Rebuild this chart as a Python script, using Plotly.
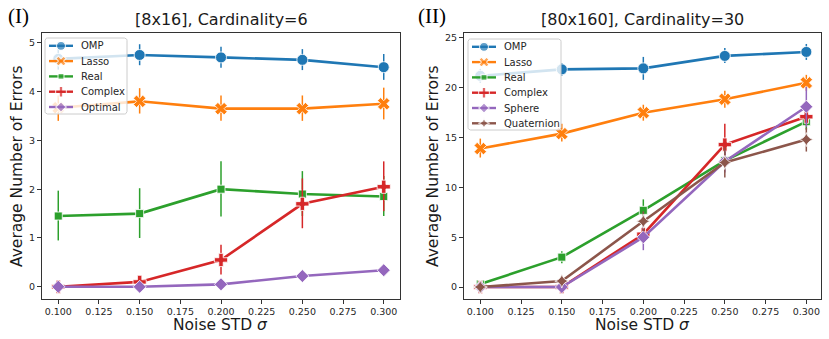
import plotly.graph_objects as go

# ---------------- data ----------------
noise = [0.10, 0.15, 0.20, 0.25, 0.30]
x_ticks = [0.100, 0.125, 0.150, 0.175, 0.200, 0.225, 0.250, 0.275, 0.300]

# Panel I: [8x16], Cardinality=6
p1_names = ["OMP", "Lasso", "Real", "Complex", "Optimal"]
p1_mean = {
    "OMP":     [4.67, 4.75, 4.70, 4.65, 4.50],
    "Lasso":   [3.67, 3.80, 3.65, 3.65, 3.75],
    "Real":    [1.45, 1.50, 2.00, 1.90, 1.85],
    "Complex": [0.00, 0.10, 0.55, 1.70, 2.05],
    "Optimal": [0.00, 0.00, 0.05, 0.22, 0.34],
}
p1_lo = {
    "OMP":     [4.45, 4.54, 4.49, 4.44, 4.24],
    "Lasso":   [3.40, 3.55, 3.40, 3.40, 3.43],
    "Real":    [0.95, 1.00, 1.44, 1.45, 1.45],
    "Complex": [0.00, 0.03, 0.25, 1.20, 1.55],
    "Optimal": [0.00, 0.00, 0.02, 0.17, 0.29],
}
p1_hi = {
    "OMP":     [4.88, 4.97, 4.92, 4.87, 4.77],
    "Lasso":   [3.92, 4.07, 3.92, 3.92, 4.08],
    "Real":    [1.97, 2.02, 2.57, 2.37, 2.27],
    "Complex": [0.00, 0.17, 0.86, 2.22, 2.57],
    "Optimal": [0.00, 0.00, 0.08, 0.27, 0.39],
}

# Panel II: [80x160], Cardinality=30
p2_names = ["OMP", "Lasso", "Real", "Complex", "Sphere", "Quaternion"]
p2_mean = {
    "OMP":        [21.2, 21.85, 21.95, 23.2, 23.6],
    "Lasso":      [13.9, 15.4, 17.5, 18.85, 20.5],
    "Real":       [0.3, 3.0, 7.7, 12.7, 16.6],
    "Complex":    [0.0, 0.0, 5.3, 14.3, 17.1],
    "Sphere":     [0.0, 0.0, 5.0, 12.6, 18.1],
    "Quaternion": [0.0, 0.6, 6.6, 12.5, 14.8],
}
p2_lo = {
    "OMP":        [20.5, 21.2, 20.8, 22.5, 22.8],
    "Lasso":      [13.0, 14.6, 16.7, 18.0, 19.7],
    "Real":       [0.2, 2.4, 6.6, 11.8, 15.8],
    "Complex":    [0.0, 0.0, 4.4, 12.3, 16.2],
    "Sphere":     [0.0, 0.0, 3.7, 11.5, 16.1],
    "Quaternion": [0.0, 0.4, 5.6, 11.0, 13.6],
}
p2_hi = {
    "OMP":        [21.9, 22.5, 23.1, 24.0, 24.4],
    "Lasso":      [14.9, 16.4, 18.3, 19.7, 21.3],
    "Real":       [0.4, 3.6, 8.8, 13.6, 17.4],
    "Complex":    [0.0, 0.0, 6.2, 16.4, 18.0],
    "Sphere":     [0.0, 0.0, 6.3, 13.7, 20.1],
    "Quaternion": [0.0, 0.8, 7.6, 14.0, 16.0],
}

colors = {
    "OMP": "#1f77b4", "Lasso": "#ff7f0e", "Real": "#2ca02c",
    "Complex": "#d62728", "Optimal": "#9467bd", "Sphere": "#9467bd",
    "Quaternion": "#8c564b",
}
symbols = {
    "OMP": "circle", "Lasso": "x", "Real": "square", "Complex": "cross",
    "Optimal": "diamond", "Sphere": "diamond", "Quaternion": "star-diamond",
}
msize = {"OMP": 11, "Lasso": 11, "Real": 8, "Complex": 11,
         "Optimal": 10, "Sphere": 10, "Quaternion": 10}

# ---------------- layout constants (pixels) ----------------
W, H = 829, 339
TOP, BOT = 33, 299
LEG_BOXES = [(45, 38, 127, 114), (468, 39, 561, 130)]  # x0, y0, x1, y1
ROW_H = 15.3

fig = go.Figure()


def add_panel(names, mean, lo, hi, xa, ya):
    for n in names:
        m = mean[n]
        fig.add_trace(go.Scatter(
            x=noise, y=m, mode="lines+markers", name=n,
            xaxis=xa, yaxis=ya, showlegend=False,
            line=dict(color=colors[n], width=2.6),
            marker=dict(symbol=symbols[n], size=msize[n], color=colors[n],
                        line=dict(color="white", width=0.8)),
            error_y=dict(type="data", symmetric=False,
                         array=[h - v for h, v in zip(hi[n], m)],
                         arrayminus=[v - l for v, l in zip(m, lo[n])],
                         color=colors[n], thickness=1.5, width=0),
        ))


def rounded_box(x0, y0, x1, y1, r=2.5, n=5):
    import math
    xs, ys = [], []
    corners = [(x1 - r, y0 + r, -90, 0), (x1 - r, y1 - r, 0, 90),
               (x0 + r, y1 - r, 90, 180), (x0 + r, y0 + r, 180, 270)]
    for cx, cy, a0, a1 in corners:
        for k in range(n + 1):
            a = math.radians(a0 + (a1 - a0) * k / n)
            xs.append(cx + r * math.cos(a))
            ys.append(cy + r * math.sin(a))
    xs.append(xs[0])
    ys.append(ys[0])
    return xs, ys


annotations = []


def add_legend(names, box):
    x0, y0, x1, y1 = box
    bx, by = rounded_box(x0, y0, x1, y1)
    fig.add_trace(go.Scatter(
        x=bx, y=by, mode="lines", fill="toself",
        fillcolor="rgba(255,255,255,0.8)", line=dict(color="#cccccc", width=1),
        xaxis="x3", yaxis="y3", showlegend=False, hoverinfo="skip"))
    for i, n in enumerate(names):
        yc = y0 + 7.8 + i * ROW_H
        fig.add_trace(go.Scatter(
            x=[x0 + 4, x0 + 16, x0 + 28], y=[yc, yc, yc], mode="lines+markers",
            xaxis="x3", yaxis="y3", showlegend=False, hoverinfo="skip",
            line=dict(color=colors[n], width=2.4),
            marker=dict(symbol=symbols[n], size=[0, msize[n] - 2, 0], color=colors[n],
                        line=dict(color="white", width=1.2))))
        annotations.append(dict(
            text=n, x=x0 + 34, y=yc, xref="x3", yref="y3", showarrow=False,
            xanchor="left", yanchor="middle",
            font=dict(size=10, color="#262626", family="DejaVu Sans")))


add_panel(p1_names, p1_mean, p1_lo, p1_hi, "x", "y")
add_panel(p2_names, p2_mean, p2_lo, p2_hi, "x2", "y2")
add_legend(p1_names, LEG_BOXES[0])
add_legend(p2_names, LEG_BOXES[1])

ydom = [1 - BOT / H, 1 - TOP / H]

axis_common = dict(showline=True, linecolor="#333333", linewidth=1, mirror=True,
                   ticks="outside", ticklen=4, tickcolor="#333333",
                   showgrid=False, zeroline=False,
                   tickfont=dict(family="DejaVu Sans", size=9.5, color="#262626"))

title_font = dict(family="DejaVu Sans", size=15.5, color="#1a1a1a")
ymid = 1 - (TOP + BOT) / 2 / H

annotations += [
    dict(text="[8x16], Cardinality=6", x=221 / W, y=1 - 20 / H, xref="paper", yref="paper",
         showarrow=False, font=dict(size=16, color="#1a1a1a"), xanchor="center", yanchor="middle"),
    dict(text="[80x160], Cardinality=30", x=642 / W, y=1 - 20 / H, xref="paper", yref="paper",
         showarrow=False, font=dict(size=16, color="#1a1a1a"), xanchor="center", yanchor="middle"),
    dict(text="(I)", x=6 / W, y=1 - 16 / H, xref="paper", yref="paper",
         showarrow=False, font=dict(size=21, family="Liberation Serif", color="black"),
         xanchor="left", yanchor="middle"),
    dict(text="(II)", x=416 / W, y=1 - 16 / H, xref="paper", yref="paper",
         showarrow=False, font=dict(size=21, family="Liberation Serif", color="black"),
         xanchor="left", yanchor="middle"),
    dict(text="Noise STD <i>σ</i>", x=220 / W, y=1 - 325 / H, xref="paper", yref="paper",
         showarrow=False, font=title_font, xanchor="center", yanchor="middle"),
    dict(text="Noise STD <i>σ</i>", x=642 / W, y=1 - 325 / H, xref="paper", yref="paper",
         showarrow=False, font=title_font, xanchor="center", yanchor="middle"),
    dict(text="Average Number of Errors", x=17 / W, y=ymid, xref="paper", yref="paper",
         showarrow=False, font=title_font, textangle=-90, xanchor="center", yanchor="middle"),
    dict(text="Average Number of Errors", x=433 / W, y=ymid, xref="paper", yref="paper",
         showarrow=False, font=title_font, textangle=-90, xanchor="center", yanchor="middle"),
]

fig.update_layout(
    width=W, height=H, margin=dict(l=0, r=0, t=0, b=0),
    plot_bgcolor="rgba(0,0,0,0)", paper_bgcolor="white", showlegend=False,
    font=dict(family="DejaVu Sans", color="#262626"),
    xaxis=dict(domain=[42 / W, 400 / W], range=[0.09, 0.31],
               tickvals=x_ticks, tickformat=".3f", anchor="y", **axis_common),
    yaxis=dict(domain=ydom, range=[-0.25, 5.2], tickvals=[0, 1, 2, 3, 4, 5],
               anchor="x", **axis_common),
    xaxis2=dict(domain=[464 / W, 821 / W], range=[0.09, 0.309],
                tickvals=x_ticks, tickformat=".3f", anchor="y2", **axis_common),
    yaxis2=dict(domain=ydom, range=[-1.2, 25.5], tickvals=[0, 5, 10, 15, 20, 25],
                anchor="x2", **axis_common),
    xaxis3=dict(domain=[0, 1], range=[0, W], visible=False, anchor="y3", fixedrange=True),
    yaxis3=dict(domain=[0, 1], range=[H, 0], visible=False, anchor="x3", fixedrange=True),
    annotations=annotations,
)

fig.write_html("out.html")
